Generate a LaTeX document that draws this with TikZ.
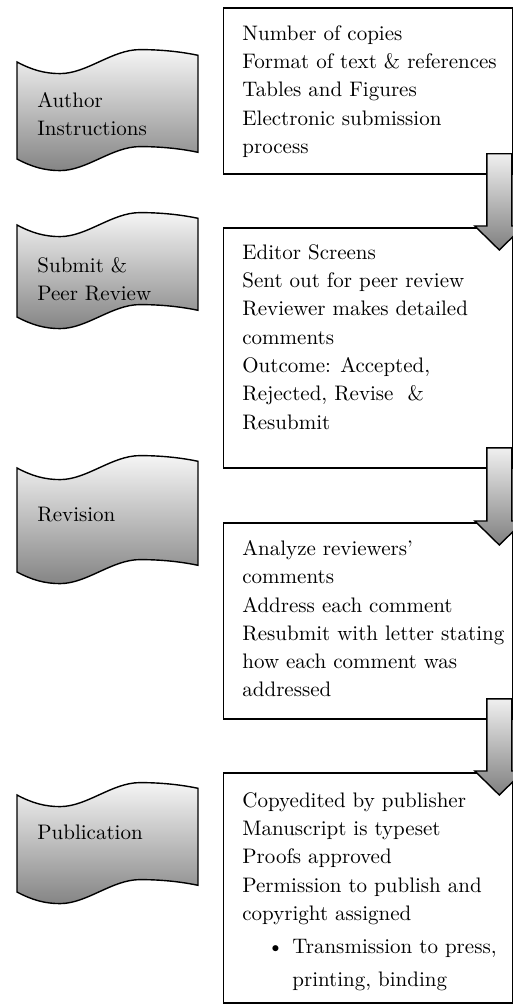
\documentclass[tikz,border=0pt]{standalone}
\usetikzlibrary{calc}
\newcommand{\stepfont}{\fontsize{10.5pt}{14.15pt}\selectfont}

\begin{document}
\begin{tikzpicture}[
    x=0.5pt, y=-0.5pt,
    stepbox/.style={
        rectangle,
        draw,
        line width=0.9pt,
        anchor=north west,
        minimum width=144.75pt,
        inner sep=0pt
    },
    steptext/.style={anchor=north west, align=left, inner sep=0pt, font=\stepfont},
    banner/.style={draw, line width=0.7pt, top color=white!96!black, bottom color=black!48},
    blockarrow/.style={draw, line width=0.7pt, top color=white!94!black, bottom color=black!50}
]
    \useasboundingbox (0,0) rectangle (513,1005);

    % --- wavy banners on the left ---
    \foreach \y/\h in {62/97, 225/92, 468/104, 795/97} {
        \begin{scope}[shift={(17,\y)}]
            \shade[banner] (0,0) .. controls (15,8) and (28,11.6) .. (43,11.6)
                .. controls (70,11.6) and (95,-12.4) .. (123,-12.4)
                .. controls (150,-12.4) and (170,-9) .. (181,-6.7)
                -- (181,\h-6.7)
                .. controls (170,\h-9) and (150,\h-12.4) .. (123,\h-12.4)
                .. controls (95,\h-12.4) and (70,\h+11.6) .. (43,\h+11.6)
                .. controls (28,\h+11.6) and (15,\h+8) .. (0,\h) -- cycle;
        \end{scope}
    }

    % text tops sit about 15px above the first baseline
    \node[steptext] (author) at (37,92) {Author\\Instructions};
    \node[steptext] (submit) at (37,257) {Submit \&\\Peer Review};
    \node[steptext] (revision) at (37,507) {Revision};
    \node[steptext] (publication) at (37,825) {Publication};

    % --- step boxes ---
    \node[stepbox, minimum height=83pt] (instr) at (222.5,7) {};
    \node[stepbox, minimum height=120pt] (review) at (222.5,227) {};
    \node[stepbox, minimum height=98pt] (revise) at (222.5,522) {};
    \node[stepbox, minimum height=115pt] (publish) at (222.5,772) {};

    \node[steptext] (instrtext) at ($(instr.north west)+(19.5,18)$) {%
        Number of copies\\
        Format of text \& references\\
        Tables and Figures\\
        Electronic submission\\
        process};
    \node[steptext] (reviewtext) at ($(review.north west)+(19.5,17)$) {%
        Editor Screens\\
        Sent out for peer review\\
        Reviewer makes detailed\\
        comments\\
        Outcome: Accepted,\\
        Rejected, Revise\ \ \&\\
        Resubmit};
    \node[steptext] (revisetext) at ($(revise.north west)+(19.5,18)$) {%
        Analyze reviewers'\\
        comments\\
        Address each comment\\
        Resubmit with letter stating\\
        how each comment was\\
        addressed};
    \node[steptext] (publishtext) at ($(publish.north west)+(19.5,20)$) {%
        Copyedited by publisher\\
        Manuscript is typeset\\
        Proofs approved\\
        Permission to publish and\\
        copyright assigned\\[2.35pt]
        \hspace*{12.5pt}\makebox[12.5pt][l]{\textbullet}Transmission to press,\\[2.35pt]
        \hspace*{25pt}printing, binding};

    % --- block arrows between the boxes ---
    \foreach \a/\b in {instr/review, review/revise, revise/publish} {
        \shade[blockarrow] ($(\a.south east)+(-27,-21)$) -- ($(\a.south east)+(-2,-21)$)
            -- ($(\b.north east)+(-2,-1)$) -- ($(\b.north east)+(10,-1)$)
            -- ($(\b.north east)+(-14.5,23)$) -- ($(\b.north east)+(-39,-1)$)
            -- ($(\b.north east)+(-27,-1)$) -- cycle;
    }

\end{tikzpicture}
\end{document}
